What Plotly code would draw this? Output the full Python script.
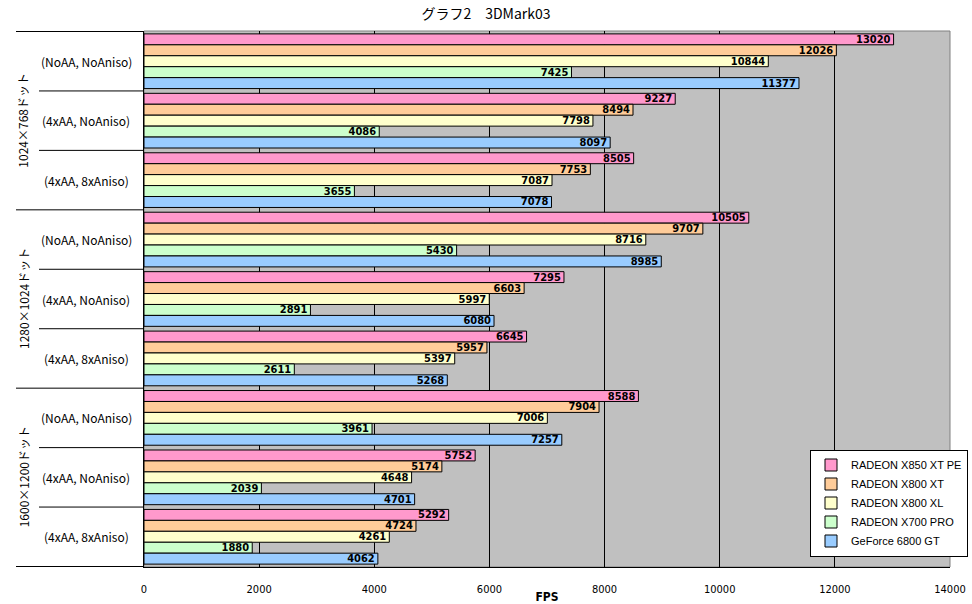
import plotly.graph_objects as go

resolutions = ["1024×768ドット", "1280×1024ドット", "1600×1200ドット"]
settings = ["(NoAA, NoAniso)", "(4xAA, NoAniso)", "(4xAA, 8xAniso)"]
series_names = ["RADEON X850 XT PE", "RADEON X800 XT", "RADEON X800 XL", "RADEON X700 PRO", "GeForce 6800 GT"]
colors = ["#FF99CC", "#FFCC99", "#FFFFCC", "#CCFFCC", "#99CCFF"]

x850xtpe = [13020, 9227, 8505, 10505, 7295, 6645, 8588, 5752, 5292]
x800xt = [12026, 8494, 7753, 9707, 6603, 5957, 7904, 5174, 4724]
x800xl = [10844, 7798, 7087, 8716, 5997, 5397, 7006, 4648, 4261]
x700pro = [7425, 4086, 3655, 5430, 2891, 2611, 3961, 2039, 1880]
gf6800gt = [11377, 8097, 7078, 8985, 6080, 5268, 7257, 4701, 4062]
series_values = [x850xtpe, x800xt, x800xl, x700pro, gf6800gt]

categories = [f"{r}|{s}" for r in resolutions for s in settings]

W, H = 972, 604
L, R, T, B = 144, 22, 31, 37
pw = W - L - R
ph = H - T - B

def px2paperx(px):
    return (px - L) / pw

narrow = "DejaVu Sans Condensed, Liberation Sans Narrow, Arial Narrow"
jp = "Noto Sans CJK JP"

fig = go.Figure()
label_font = dict(family=narrow, size=11, color="black", weight="bold")
for name, vals, col in zip(series_names, series_values, colors):
    fig.add_trace(go.Bar(
        y=categories, x=vals, orientation="h", name=name,
        marker=dict(color=col, line=dict(color="black", width=1)),
        text=[str(v) for v in vals], textposition="inside", insidetextanchor="end",
        textfont=label_font, constraintext="none",
    ))

annotations = []
shapes = []
n = len(categories)
for i, c in enumerate(categories):
    r, s = c.split("|")
    annotations.append(dict(x=px2paperx(86), xref="paper", xanchor="center", y=i, yref="y", text=s,
                            showarrow=False, font=dict(family=jp, size=12, color="black")))
for gi, r in enumerate(resolutions):
    annotations.append(dict(x=px2paperx(23), xref="paper", xanchor="center", y=gi * 3 + 1, yref="y", text=r,
                            textangle=-90, showarrow=False, font=dict(family=jp, size=12, color="black")))
for i in range(n + 1):
    major = (i % 3 == 0)
    x0 = px2paperx(16 if major else 39)
    shapes.append(dict(type="line", xref="paper", yref="y", x0=x0, x1=0, y0=i - 0.5, y1=i - 0.5,
                       line=dict(color="black", width=1)))
shapes.append(dict(type="rect", xref="paper", yref="paper", x0=0, x1=1, y0=0, y1=1,
                   line=dict(color="#808080", width=1), layer="below"))

fig.update_layout(
    width=W, height=H,
    margin=dict(l=L, r=R, t=T, b=B, autoexpand=False),
    paper_bgcolor="white", plot_bgcolor="#C0C0C0",
    barmode="group", bargap=0.08, bargroupgap=0,
    title=dict(text="グラフ2　3DMark03", x=0.5, xanchor="center", y=1 - 14 / H, yanchor="middle",
               font=dict(family=jp, size=14, color="black")),
    xaxis=dict(range=[0, 14000], dtick=2000, tickformat="d", showgrid=True, gridcolor="black", gridwidth=1,
               zeroline=False, showline=True, linecolor="black", linewidth=1, ticks="",
               ticklabelstandoff=12,
               tickfont=dict(family=narrow, size=11, color="black"),
               title=dict(text="FPS", standoff=0,
                          font=dict(family=narrow, size=12, color="black", weight="bold"))),
    yaxis=dict(type="category", categoryorder="array", categoryarray=categories, autorange="reversed",
               showticklabels=False, ticks="", showgrid=False, zeroline=False,
               showline=True, linecolor="black", linewidth=1),
    legend=dict(x=px2paperx(810), xanchor="left", y=(H - B - 503) / ph, yanchor="middle",
                bgcolor="white", bordercolor="black", borderwidth=1,
                font=dict(family="Liberation Sans, Arial", size=11, color="black"),
                itemwidth=30, tracegroupgap=0),
    annotations=annotations, shapes=shapes,
    showlegend=True,
)
fig.write_html("out.html")
